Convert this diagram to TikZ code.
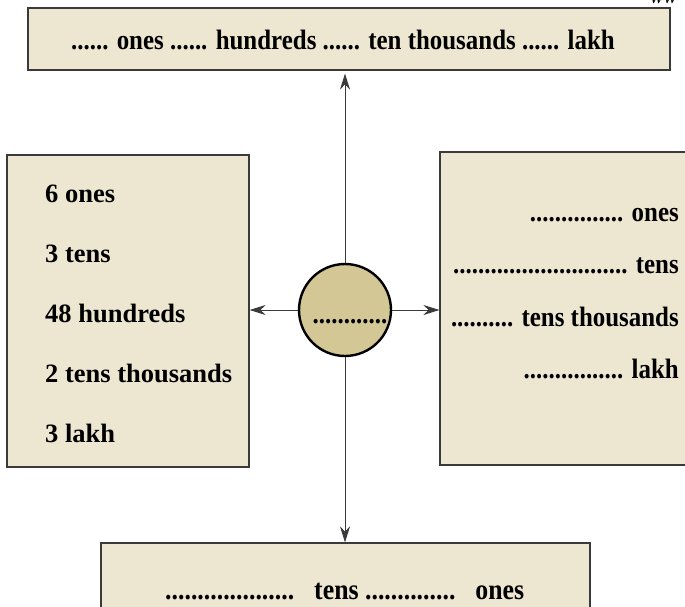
\documentclass[tikz,border=0pt]{standalone}
\usepackage{fontspec}
\setmainfont{Liberation Serif}
\newfontfamily\narrowfont{Liberation Serif}[FakeStretch=0.89]
\usetikzlibrary{arrows.meta}
\definecolor{boxfill}{HTML}{EDE7D1}
\definecolor{ringfill}{HTML}{D3C796}
\definecolor{edgegray}{HTML}{3A3A3A}
\tikzset{>={Stealth[length=16pt,width=10pt]},
  panel/.style={draw=edgegray,line width=1.2pt,fill=boxfill,rectangle,inner sep=0pt},
  narrow/.style={font=\narrowfont\bfseries\fontsize{28}{30}\selectfont,inner sep=0pt},
  wide/.style={font=\bfseries\fontsize{26.5}{28}\selectfont,inner sep=0pt},
  link/.style={->,draw=edgegray,line width=0.9pt}}

\begin{document}
\begin{tikzpicture}[x=1pt,y=-1pt]
\useasboundingbox (0,0) rectangle (685,607);
\node[panel,minimum width=642pt,minimum height=62pt] (top) at (349,39) {};
\node[panel,minimum width=242pt,minimum height=312pt] (left) at (128,311) {};
\node[panel,minimum width=250pt,minimum height=313pt] (right) at (565,308.5) {};
\node[panel,minimum width=489pt,minimum height=77pt] (bottom) at (345.5,581.5) {};
\node[circle,draw=black,line width=2.4pt,fill=ringfill,minimum size=92pt,inner sep=0pt] (ring) at (345,310) {};
% texts
\node[narrow,anchor=base] (toptext) at (343,50) {...... ones ...... hundreds ...... ten thousands ...... lakh};
\foreach \txt [count=\i from 0] in {6 ones,3 tens,48 hundreds,2 tens thousands,3 lakh}
  \node[wide,anchor=base west] (l\i) at (45,202+60*\i) {\txt};
\node[narrow,anchor=base east] (r0) at (679,221) {............... ones};
\node[narrow,anchor=base east] (r1) at (679,273.5) {............................ tens};
\node[narrow,anchor=base east] (r2) at (679,326) {.......... tens thousands};
\node[narrow,anchor=base east] (r3) at (679,378.5) {................ lakh};
\node[narrow,anchor=base west,font=\narrowfont\bfseries\fontsize{29}{30}\selectfont] (bottomtext) at (165,599)
  {....................\hspace{20pt}tens ..............\hspace{20pt}ones};
\node[narrow,anchor=base] (ringtext) at (350,323) {............};
\node[anchor=base west,inner sep=0pt,font=\itshape\fontsize{20}{20}\selectfont] (mark) at (650,4) {ww};
% arrows
\draw[link,shorten >=3pt] (ring.north) -- (ring.north |- top.south);
\draw[link] (ring.south) -- (ring.south |- bottom.north);
\draw[link] (ring.west) -- (ring.west -| left.east);
\draw[link] (ring.east) -- (ring.east -| right.west);
\end{tikzpicture}
\end{document}
